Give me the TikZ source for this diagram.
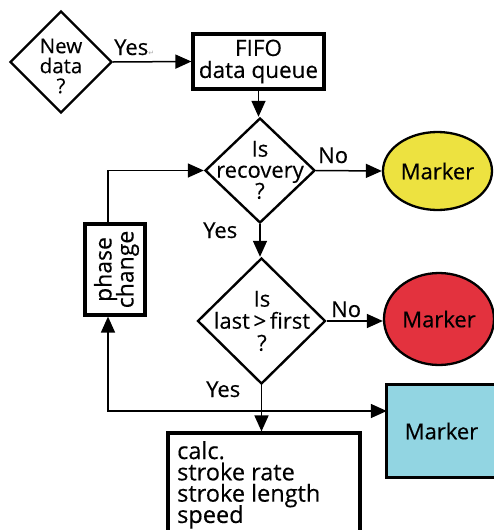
\documentclass[tikz,border=0pt]{standalone}
\usepackage{fontspec}
\setmainfont{Open Sans}[FakeBold=0.3]
\newfontfamily\symfont{DejaVu Sans}
\usetikzlibrary{shapes.geometric,arrows.meta}
\definecolor{markyellow}{RGB}{237,226,64}
\definecolor{markred}{RGB}{227,50,62}
\definecolor{markblue}{RGB}{146,213,226}
\newcommand{\fs}[2]{\fontsize{#1}{#2}\selectfont\lineskiplimit=-30pt\relax}
\begin{document}
\begin{tikzpicture}[x=1pt,y=-1pt,
  decision/.style={diamond,draw,line width=2.4pt,inner sep=0pt},
  procbox/.style={rectangle,draw,line width=3.2pt,inner sep=0pt},
  marker/.style={ellipse,draw,line width=2.3pt,inner sep=0pt,font=\fs{22}{22}},
  label/.style={inner sep=0pt,font=\fs{22}{22}},
  boxtext/.style={inner sep=0pt,align=center},
  conn/.style={line width=1.5pt,-{Triangle[length=16pt,width=14pt]}}]
\useasboundingbox (0,0) rectangle (494,530);
\clip (0,0) rectangle (494,530);
\fill[white] (0,0) rectangle (494,530);

% decisions
\node[decision,minimum width=102pt,minimum height=102pt] (newdata) at (61,62) {};
\node[boxtext,font=\fs{20.5}{20}] (newdataT) at (61,66) {New\\data\\?};

\node[decision,minimum width=110pt,minimum height=105pt] (recov) at (260,170.5) {};
\node[boxtext,font=\fs{22}{21}] (recovT) at (260,170) {Is\\recovery\\?};

\node[decision,minimum width=128pt,minimum height=126pt] (last) at (261.5,321) {};
\node[boxtext,font=\fs{22}{22}] (lastT) at (262,321) {Is\\last\,>\,first\\?};

% process boxes
\node[procbox,minimum width=131pt,minimum height=55pt,align=center,font=\fs{22.5}{22}] (fifo) at (258.5,61.5) {FIFO\\data queue};
\node[procbox,minimum width=60pt,minimum height=91pt] (phase) at (115,269.5) {};
\node[boxtext,rotate=90,font=\fs{23}{22}] (phaseT) at (116.5,269.5) {phase\\change};
\node[procbox,minimum width=192pt,minimum height=112pt] (calc) at (264,489) {};
\node[inner sep=0pt,align=left,anchor=north west,font=\fs{23.5}{21.3}] (calcT) at (177,441) {calc.\\stroke rate\\stroke length\\speed};

% markers
\node[marker,fill=markyellow,minimum width=109pt,minimum height=78pt] (mark1) at (437.5,171) {Marker};
\node[marker,fill=markred,minimum width=110pt,minimum height=92pt] (mark2) at (439,319) {Marker};
% the blue marker runs off the right edge, so only three sides are outlined
\node[rectangle,fill=markblue,inner sep=0pt,minimum width=118pt,minimum height=92pt] (mark3) at (446,431) {};
\draw[line width=3.2pt] (mark3.north east) -- (mark3.north west) -- (mark3.south west) -- (mark3.south east);
\node[inner sep=0pt,font=\fs{22}{22}] (mark3T) at (441.5,431) {Marker};

% branch labels
\node[label,anchor=base west] (yes1) at (114,55) {Yes\textcolor{gray!70}{\symfont\fontsize{7}{7}\selectfont ↵}};
\node[label,anchor=base west] (no1) at (318,163) {No};
\node[label,anchor=base west] (yes2) at (203,238) {Yes};
\node[label,anchor=base west] (no2) at (331,317) {No};
\node[label,anchor=base west] (yes3) at (206,397) {Yes};

% connectors
\coordinate (row) at (0,411);
\coordinate (loopx) at (108,0);
\coordinate (split) at (last.south |- row);
\draw[conn] (newdata.east) -- (fifo.west);
\draw[conn] (fifo.south) -- (fifo.south |- recov.north);
\draw[conn] (recov.east) -- (mark1.west);
\draw[conn] (recov.south) -- (recov.south |- last.north);
\draw[conn] (last.east) -- (last.east -| mark2.west);
\draw[conn] (last.south) -- (last.south |- calc.north);
\draw[conn] (split) -- (split -| mark3.west);
\draw[conn] (split) -| (loopx |- phase.south);
\draw[conn] (loopx |- phase.north) |- (recov.west);
\end{tikzpicture}
\end{document}
